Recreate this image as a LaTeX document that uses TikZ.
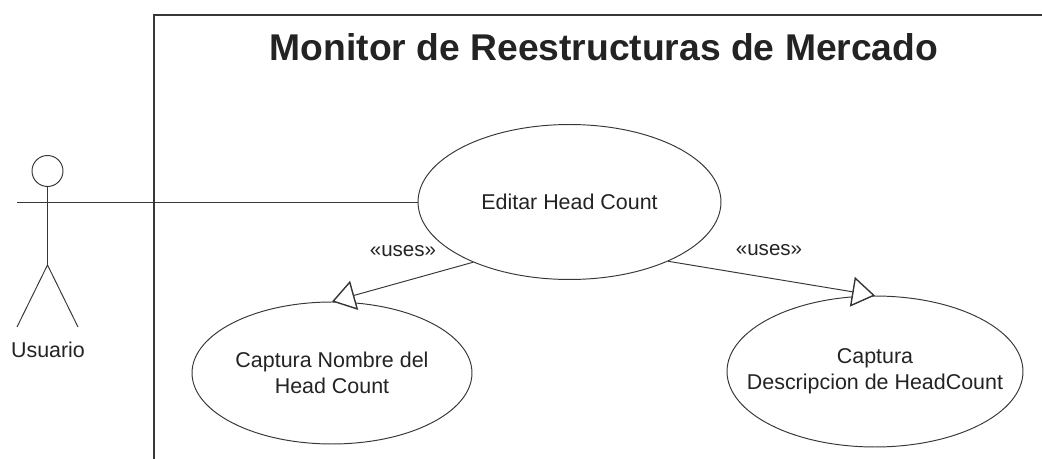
\documentclass[tikz,border=0pt]{standalone}
\usepackage{fontspec}
\setmainfont{Liberation Sans}
\usetikzlibrary{arrows.meta,shapes.geometric}
\definecolor{linea}{RGB}{55,55,55}
\definecolor{texto}{RGB}{35,35,35}
\tikzset{
  usecase/.style={draw=linea,ellipse,inner sep=0pt,minimum width=#1},
  etiqueta/.style={text=texto,inner sep=0pt,align=center,font=\fontsize{12.2}{15}\selectfont},
  usa/.style={draw=linea,-{Triangle[open,length=0.46cm,width=0.6cm,fill=white,line width=0.8pt]}},
}
\begin{document}
\begin{tikzpicture}[x=0.02cm,y=-0.02cm,line width=0.55pt]
\useasboundingbox (0,0) rectangle (1042,459);
% sistema
\coordinate (sisA) at (154,459);
\coordinate (sisB) at (154,15);
\coordinate (sisC) at (1042,15);
\draw[linea,line width=0.8pt] (sisA) -- (sisB) -- (sisC);
\node[text=texto,inner sep=0pt,font=\fontsize{21.2}{25}\selectfont\bfseries] (titulo) at (604,47) {Monitor de Reestructuras de Mercado};
% casos de uso
\node[usecase=6.06cm,minimum height=3.1cm] (editar) at (569.5,202) {};
\node[usecase=5.6cm,minimum height=2.84cm] (nombre) at (332,373) {};
\node[usecase=5.92cm,minimum height=3.02cm] (descripcion) at (875,371.5) {};
\node[etiqueta] (txtEditar) at (569.5,202) {Editar Head Count};
\node[etiqueta] (txtNombre) at (332,373) {Captura Nombre del\\Head Count};
\node[etiqueta] (txtDescripcion) at (875,371) {Captura\\Descripcion de HeadCount};
% actor
\node[draw=linea,circle,minimum size=0.62cm,inner sep=0pt] (cabeza) at (47.5,171) {};
\coordinate (brazo) at (17,202);
\coordinate (cadera) at (47.5,265);
\coordinate (pieA) at (17,327);
\coordinate (pieB) at (78,327);
\draw[linea] (cabeza) -- (cadera);
\draw[linea] (pieA) -- (cadera) -- (pieB);
\node[etiqueta] (usuario) at (48,350) {Usuario};
\draw[linea] (brazo) -- (editar.west);
% relaciones
\draw[usa] (editar.212) -- (nombre.north);
\draw[usa] (editar.329) -- (descripcion.north);
\node[etiqueta,font=\fontsize{11.7}{15}\selectfont] (usesA) at (403,251) {«uses»};
\node[etiqueta,font=\fontsize{11.7}{15}\selectfont] (usesB) at (769,250) {«uses»};
\end{tikzpicture}
\end{document}
